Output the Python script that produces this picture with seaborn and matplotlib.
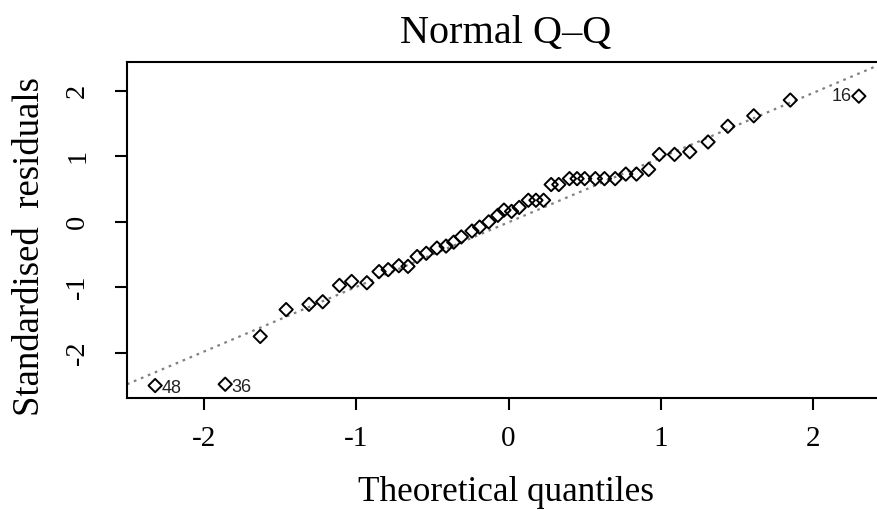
import numpy as np
import pandas as pd
import matplotlib
matplotlib.use("Agg")
import matplotlib.pyplot as plt
import seaborn as sns

# ---- data ----
theoretical = [-2.32, -1.86, -1.63, -1.46, -1.31, -1.22, -1.11, -1.03, -0.93, -0.85,
               -0.79, -0.72, -0.66, -0.60, -0.54, -0.47, -0.41, -0.36, -0.31, -0.24,
               -0.19, -0.13, -0.07, -0.03, 0.02, 0.07, 0.13, 0.18, 0.23, 0.28,
               0.33, 0.40, 0.45, 0.50, 0.57, 0.63, 0.70, 0.77, 0.84, 0.92,
               0.99, 1.09, 1.19, 1.31, 1.44, 1.61, 1.85, 2.30]
residuals = [-2.50, -2.48, -1.75, -1.34, -1.26, -1.22, -0.97, -0.91, -0.93, -0.76,
             -0.73, -0.67, -0.68, -0.53, -0.48, -0.40, -0.37, -0.31, -0.23, -0.14,
             -0.08, 0.00, 0.10, 0.18, 0.16, 0.22, 0.33, 0.33, 0.33, 0.57,
             0.57, 0.66, 0.66, 0.66, 0.66, 0.66, 0.66, 0.73, 0.73, 0.80,
             1.03, 1.03, 1.07, 1.22, 1.46, 1.62, 1.86, 1.92]
label_pos = [0, 1, 47]          # indices of labelled points
label_text = ["48", "36", "16"]
xticks = [-2, -1, 0, 1, 2]
yticks = [-2, -1, 0, 1, 2]
tick_labels = ["-2", "-1", "0", "1", "2"]

df = pd.DataFrame({"q": theoretical, "r": residuals})

sns.set_theme(style="white")
plt.rcParams["font.family"] = ["Liberation Serif", "DejaVu Serif"]
plt.rcParams["axes.unicode_minus"] = False

W, H = 877, 511
fig = plt.figure(figsize=(W / 100, H / 100), dpi=100)
fig.patch.set_facecolor("white")
ax = fig.add_axes([127 / W, (H - 398) / H, 760 / W, 336 / H])

# reference line through the quartiles (as R's qqline)
y_q = np.quantile(df["r"], [0.25, 0.75])
x_q = np.array([-0.6744898, 0.6744898])
slope = (y_q[1] - y_q[0]) / (x_q[1] - x_q[0])
inter = y_q[0] - slope * x_q[0]
ax.axline((0, inter), slope=slope, color="#808080", lw=1.6,
          linestyle=(0, (1.2, 2.2)), zorder=1)

sns.scatterplot(data=df, x="q", y="r", ax=ax, marker="D", s=46,
                facecolor="none", edgecolor="black", linewidth=1.4, zorder=3)

# axis limits like R
xr = df["q"].max() - df["q"].min()
ax.set_xlim(df["q"].min() - 0.04 * xr, df["q"].max() + 0.04 * xr)
ylo, yhi = df["r"].min(), df["r"].max()
yhi = yhi + 0.075 * (yhi - ylo)
yr = yhi - ylo
ax.set_ylim(ylo - 0.04 * yr, yhi + 0.04 * yr)

for i, t in zip(label_pos, label_text):
    x, y = theoretical[i], residuals[i]
    if x < 0:
        ax.annotate(t, (x, y), xytext=(4.5, -2), textcoords="offset points",
                    ha="left", va="center", fontsize=13,
                    family=["Liberation Sans", "DejaVu Sans"], color="#222222")
    else:
        ax.annotate(t, (x, y), xytext=(-5, 0), textcoords="offset points",
                    ha="right", va="center", fontsize=13,
                    family=["Liberation Sans", "DejaVu Sans"], color="#222222")

for sp in ax.spines.values():
    sp.set_color("black")
    sp.set_linewidth(1.5)
ax.tick_params(axis="both", which="major", direction="out", length=8.5, width=1.5,
               color="black", labelcolor="black", bottom=True, left=True)
ax.tick_params(axis="x", pad=12)
ax.tick_params(axis="y", pad=18)

ax.set_xticks(xticks)
ax.set_xticklabels(tick_labels, fontsize=21)
ax.set_yticks(yticks)
ax.set_yticklabels(tick_labels, rotation=90, va="center", fontsize=20.5)

ax.set_xlabel("")
ax.set_ylabel("")
fig.text(506 / W, 1 - 501 / H, "Theoretical quantiles", ha="center", va="baseline",
         fontsize=25.3, color="black")
fig.text(39 / W, 1 - 246 / H, "Standardised  residuals", ha="center", va="baseline",
         rotation=90, rotation_mode="anchor", fontsize=26.5, color="black")
fig.text(506 / W, 1 - 43 / H, "Normal Q\u2013Q", ha="center", va="baseline",
         fontsize=29, color="black")

fig.savefig("out.png", dpi=100, facecolor="white")
